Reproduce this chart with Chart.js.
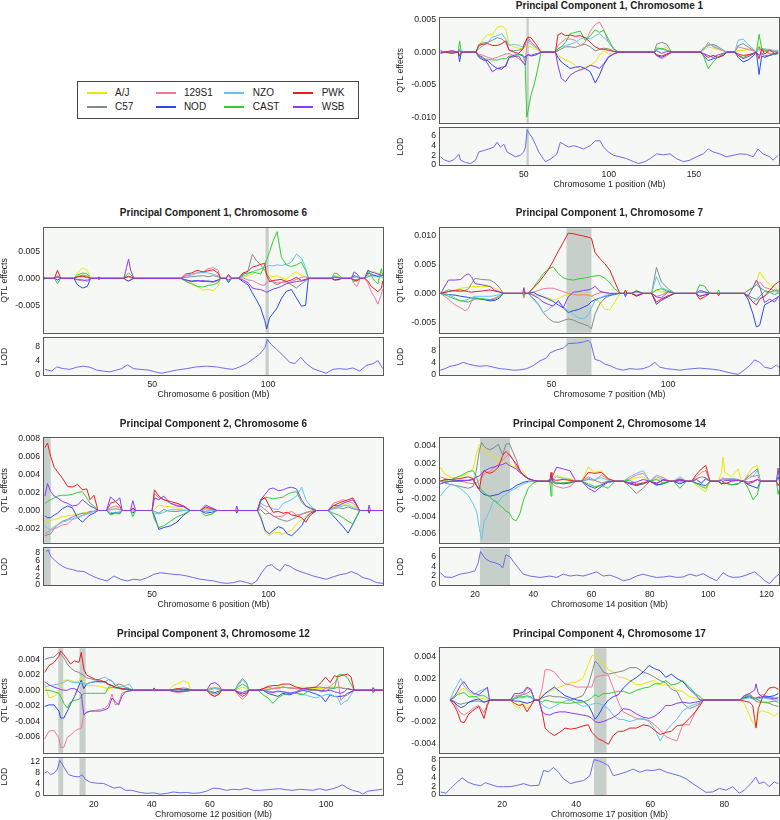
<!DOCTYPE html>
<html>
<head>
<meta charset="utf-8">
<title>QTL effects by founder</title>
<script src="https://cdn.jsdelivr.net/npm/chart.js@4.4.1/dist/chart.umd.min.js"></script>
<style>
  html, body { margin: 0; padding: 0; overflow: hidden; }
  body { width: 780px; height: 820px; position: relative; background: #fff; font-family: "Liberation Sans", Arial, Helvetica, sans-serif; color: #222; }
  canvas { position: absolute; }
  .ptitle { position: absolute; width: 339px; text-align: center; font-weight: bold; font-size: 10px; line-height: 12px; white-space: nowrap; }
  #legend { position: absolute; left: 77px; top: 81px; width: 280px; height: 36px; border: 1px solid #444; }
  .key { position: absolute; width: 20px; height: 2px; }
  .lab { position: absolute; font-size: 10px; line-height: 12px; }
</style>
</head>
<body>
<div id="legend"></div>
<script>
// founders, in the order of the legend
const founders = ['A/J', 'C57', '129S1', 'NOD', 'NZO', 'CAST', 'PWK', 'WSB'];
const founderColors = ['#e8e800', '#808c88', '#f2789a', '#2a48f0', '#62c4f2', '#32cd32', '#f01c1c', '#8c3cf2'];

// ---- Principal Component 1, Chromosome 1 (effects in units of 0.001) ----
const pc1chr1Pos = [1.2, 3.1, 8.0, 11.5, 12.3, 13.3,
  21.9, 23.6, 26.2, 28.9, 31.6, 34.4, 37.1, 39.5, 41.4, 44.1, 47.1, 49.4, 50.8, 51.8, 52.7, 54.3, 56.3, 58.2, 60.2,
  68.6, 70.1, 72.1, 74.6, 77.3, 80.3, 83.2, 86.1, 89.1, 92.0, 94.5, 96.9, 99.8, 102.7, 105.7,
  126.6, 128.1, 131.1, 134.0, 136.9,
  153.9, 155.5, 158.4, 161.3, 164.3, 167.2, 169.5,
  174.0, 176.0, 178.9, 181.8, 184.8, 186.7, 188.3, 189.8, 191.6, 194.5, 197.5, 199.5];
const pc1chr1AJ = [0, 0, 0, 0, 0.2, 0,
  0, 0.8, 2.0, 2.7, 2.6, 3.8, 4.0, 3.5, 1.2, 0.8, 0.6, 0.5, 0.8, 0.9, 1.0, 0.8, 0.5, 0.3, 0,
  0, -0.5, -0.8, -1.2, -1.5, -2.0, -2.7, -2.3, -2.0, -1.5, -0.5, 0.2, -0.3, -0.2, 0,
  0, 0.8, 0.5, 0.7, 0,
  0, 0.3, 0.8, 0.6, 0.4, 0.2, 0,
  0, 0.3, 0.2, 0.5, 0.3, 0, 1.0, 0.4, 0.2, 0.4, 0.3, 0.1];
const pc1chr1B6 = [0, 0, 0, 0, 0.3, 0,
  0, 1.2, 1.4, 1.5, 1.8, 2.2, 2.0, 1.5, 0.3, 0.2, 0.3, 0.5, 1.0, 2.0, 1.8, 1.5, 1.0, 0.6, 0,
  0, 0.2, 0.5, 0.8, 0.8, 0.7, 1.0, 1.2, 0.8, 0.2, 0.4, 0.6, 0.5, 0.2, 0,
  0, 1.2, 1.5, 1.2, 0,
  0, 0.6, 1.0, 1.2, 0.8, 0.3, 0,
  0, 1.0, 1.3, 0.8, 0.3, 0, 0.8, 0.2, 0.3, 0.2, 0.1, 0.2];
const pc1chr1S129 = [0.3, 0, 0.2, 0, 0.3, 0,
  0, -0.3, -0.5, -0.8, -1.0, -0.8, -0.5, -0.3, -0.2, -0.5, -1.0, -1.5, -1.2, 0.8, 2.2, 1.5, 1.0, 0.5, 0,
  0, 1.0, 1.5, 2.0, 2.0, 1.8, 1.0, 1.5, 3.2, 4.2, 4.6, 3.5, 1.5, 0.5, 0,
  0, -0.6, -1.0, -0.6, 0,
  0, 0.3, 1.5, 0.8, 0.5, 0.2, 0,
  0, 0.8, 0.6, 0.4, 0.2, 0, 0.6, -0.5, 0.2, -0.3, -0.2, 0.1];
const pc1chr1NOD = [0, 0, -0.1, 0, -1.5, 0,
  0, -0.8, -1.2, -1.3, -2.0, -2.5, -2.6, -2.0, -0.8, -0.5, -0.3, -0.6, -0.8, -0.5, -0.4, -0.6, -0.5, -0.3, 0,
  0, -0.8, -1.5, -2.0, -2.5, -2.3, -2.2, -2.5, -3.0, -4.7, -3.5, -2.0, -0.8, -0.3, 0,
  0, -0.5, -0.8, -0.4, 0,
  0, -0.5, -1.3, -1.0, -0.8, -0.5, 0,
  0, -0.8, -1.5, -1.2, -0.6, 0, -3.4, -0.6, -0.8, -0.5, -0.3, -0.2];
const pc1chr1NZO = [0, 0, 0, 0, 0.5, 0,
  0, 0.5, 1.0, 1.5, 2.3, 2.5, 2.8, 2.0, 1.0, 1.2, 1.0, 0.8, 1.5, 1.8, 1.5, 1.2, 0.8, 0.5, 0,
  0, 0.5, 0.8, 1.0, 1.2, 1.5, 2.0, 2.2, 2.0, 2.5, 2.8, 2.3, 1.5, 0.6, 0,
  0, 0.6, 0.4, 0.3, 0,
  0, 0.4, 1.2, 1.0, 0.6, 0.3, 0,
  0, 1.8, 2.0, 1.2, 0.5, 0, 0.5, 0.3, 0.5, 0.4, 0.2, 0.3];
const pc1chr1CAST = [0.2, 0, 0.1, 0, 1.7, 0,
  0, -0.6, -1.0, -1.1, -1.2, -1.2, -1.0, -1.0, -0.6, -0.6, -0.3, -0.4, -1.5, -9.9, -8.7, -6.5, -4.8, -2.6, 0,
  0, 0.5, 0.8, 1.5, 2.8, 3.0, 3.2, 1.8, 2.5, 3.4, 3.0, 3.3, 2.0, 0.5, 0,
  0, 0.4, 0.6, 0.3, 0,
  0, -0.5, -2.5, -1.5, -0.7, -0.3, 0,
  0, -0.5, -0.8, -0.5, -0.2, 0, 2.7, 0.6, 0.4, -0.3, -0.4, -0.2];
const pc1chr1PWK = [-0.2, 0, -0.2, 0, -0.6, 0,
  0, 1.0, 1.2, 1.3, 1.0, 1.0, 1.3, 1.7, 0.3, 0.0, -0.2, 0.5, 1.5, 2.0, 2.3, 2.2, 1.5, 0.8, 0,
  0, 2.6, 2.9, 2.5, 2.6, 2.4, 2.5, 2.2, 1.5, 0.8, 0.5, 0.4, 0.3, 0.1, 0,
  0, -0.4, -0.6, -0.3, 0,
  0, -0.3, -0.8, -0.5, -0.8, -0.5, 0,
  0, -0.3, -0.5, -0.4, -0.2, 0, -1.0, 0.5, -0.3, 0.3, -0.2, -0.1];
const pc1chr1WSB = [-0.2, 0, 0.2, 0, 0.2, 0,
  0, -0.5, -0.8, -1.8, -3.0, -2.5, -2.3, -2.2, -0.8, -0.7, -0.6, -1.5, -2.0, -0.5, -0.4, -0.5, -0.3, -0.2, 0,
  0, -2.0, -4.0, -4.5, -3.5, -3.0, -2.7, -2.5, -2.0, -2.2, -2.5, -1.8, -0.7, -0.3, 0,
  0, 0.2, -0.2, 0.1, 0,
  0, -0.2, -0.5, -0.8, -0.4, -0.2, 0,
  0, -0.5, -1.0, -0.7, -0.3, 0, -0.5, -0.2, -0.6, -0.5, -0.2, -0.1];
const pc1chr1LodPos = [1.2, 3.1, 6.1, 9.0, 11.9, 12.9, 15.8, 18.8, 21.7, 23.6, 26.6, 29.5, 32.4, 34.4, 36.3, 38.3, 40.2, 42.2, 45.1, 48.0,
  50.0, 51.0, 52.0, 52.9, 54.9, 56.8, 58.8, 60.7, 62.7, 64.6, 67.6, 69.5, 71.5, 73.4, 76.4, 79.3, 82.2, 85.2, 89.1, 92.0,
  94.9, 96.9, 99.8, 102.7, 106.6, 110.5, 114.5, 117.4, 121.3, 124.2, 128.1, 132.0, 135.9, 139.8, 143.8, 147.7, 151.6, 155.5, 158.4, 161.3,
  165.2, 169.1, 173.0, 177.0, 180.9, 184.8, 187.7, 190.6, 194.5, 196.5, 199.5];
const pc1chr1Lod = [1.7, 1.1, 0.7, 1.1, 2.2, 1.0, 0.5, 0.3, 1.0, 2.7, 3.0, 3.3, 3.7, 4.7, 3.7, 4.3, 2.7, 2.3, 1.7, 2.0,
  2.7, 3.7, 7.3, 6.7, 5.7, 4.3, 2.7, 1.7, 0.7, 1.0, 1.7, 2.3, 4.7, 4.3, 3.7, 4.0, 3.7, 3.3, 4.0, 5.0,
  5.0, 3.7, 2.7, 2.0, 1.7, 1.3, 0.7, 0.3, 0.7, 1.3, 2.3, 2.1, 2.3, 1.3, 0.7, 1.0, 1.7, 2.3, 3.3, 2.7,
  2.3, 1.7, 2.0, 2.3, 2.2, 1.7, 3.3, 2.3, 1.7, 1.0, 2.0];
const pc1chr1Peak = [[51.6, 53.0]];
const pc1chr1XTicks = [50, 100, 150];
const pc1chr1YTicks = [-10, -5, 0, 5];
const pc1chr1YLabels = ['-0.010', '-0.005', '0.000', '0.005'];
const pc1chr1LodTicks = [0, 2, 4, 6];

// ---- Principal Component 1, Chromosome 6 ----
const pc1chr6Pos = [3.4, 4.0, 7.8, 9.1, 10.5, 16.2, 17.7, 20.0, 22.0, 23.4, 26.4, 27.0, 27.6, 37.8, 38.9, 39.8, 40.7, 42.1,
  62.4, 64.5, 67.0, 69.4, 72.0, 74.1, 76.3, 78.4, 79.5, 81.8, 82.9, 84.3,
  87.2, 89.2, 91.4, 93.2, 95.0, 96.8, 98.6, 99.4, 100.7, 102.2, 103.9, 105.7, 107.9, 110.1, 112.2, 114.4, 116.2, 117.4,
  127.4, 128.7, 130.2, 131.8, 135.9, 137.1, 138.4, 139.8, 141.7, 143.1, 144.5, 146.0, 147.4, 148.9, 149.5];
const pc1chr6AJ = [0, 0, 0, 0.4, 0, 0, 1.0, 2.0, 1.5, 0, 0, 0.2, 0, 0, 0.3, 0.4, 0.2, 0,
  0, -0.5, -0.8, -1.5, -2.2, -2.0, -2.3, -1.5, 0, 0, -0.3, 0,
  0, 0.2, 0.5, 0.8, 1.2, 1.8, 1.5, 1.0, 0.5, 0.3, 0.5, 0.1, -0.2, 0.8, 1.2, 0.6, 0.3, 0,
  0, 0.5, 0.3, 0, 0, 0.3, 0.2, 0, 0, 0.8, 1.0, 1.3, 0.8, 1.0, 0.8];
const pc1chr6B6 = [0, 0, 0, 0.2, 0, 0, 0.3, 0.6, 0.4, 0, 0, 0, 0, 0, 0.2, 0.3, 0.1, 0,
  0, 0.2, 0.3, 0.4, 0.5, 0.3, 0.5, 0.3, 0, 0, 0.5, 0,
  0, 0.6, 1.5, 4.5, 3.3, 2.5, 1.5, 0.8, 0, -0.8, -1.2, -0.8, -0.5, -1.2, -1.8, -1.0, -0.5, 0,
  0, 0.3, 0.2, 0, 0, -0.3, -0.2, 0, 0, 0.3, 0.5, 0.6, 0.4, 0.3, 0.2];
const pc1chr6S129 = [0.2, 0, 0, 0.5, 0, 0, -0.3, -0.5, -0.2, 0, 0, 0.3, 0, 0, -0.3, -0.5, -0.3, 0,
  0, 0.4, 0.6, 1.0, 1.2, 1.8, 2.0, 1.5, 0, 0, 0.6, 0,
  0, 0.1, -0.3, -0.4, -0.8, -1.2, -1.3, -0.8, -0.5, -0.6, -0.9, -0.7, -0.9, -0.6, -0.2, 0.2, 0.3, 0,
  0, -0.4, -0.2, 0, 0, -1.0, -1.5, 0, 0, -1.0, -2.5, -3.5, -4.8, -3.0, -2.0];
const pc1chr6NOD = [0, 0, 0, -0.3, 0, 0, -1.2, -1.8, -1.5, 0, 0, -0.2, 0, 0, -0.4, -0.5, -0.3, 0,
  0, -0.3, -0.5, -0.4, -0.6, -0.5, -0.6, -0.3, 0, 0, -0.8, 0,
  0, -0.6, -1.2, -2.7, -4.0, -5.5, -7.9, -9.4, -7.3, -6.5, -5.5, -3.8, -2.4, -2.1, -3.6, -5.2, -5.0, 0,
  0, -0.3, -0.2, 0, 0, 0.5, 0.3, 0, 0, 1.0, 0.8, 0.5, 0.3, 0.5, 0.6];
const pc1chr6NZO = [0.3, 0, 0, 0.3, 0, 0, 0.2, 0.3, 0.2, 0, 0, 0.1, 0, 0, 0.2, 0.3, 0.2, 0,
  0, 0.5, 0.8, 1.0, 1.1, 1.0, 0.8, 0.5, 0, 0, 0.4, 0,
  0, 0.4, 0.8, 1.2, 1.5, 1.8, 2.0, 2.2, 2.4, 2.3, 2.5, 2.4, 2.6, 3.0, 4.5, 3.8, 2.0, 0,
  0, 0.4, 0.2, 0, 0, 0.2, 0.3, 0, 0, 0.5, 0.6, 0.3, 0.5, 0.2, 0.1];
const pc1chr6CAST = [-0.2, 0, 0, -1.0, 0, 0, 0.6, 1.0, 0.8, 0, 0, -0.2, 0, 0, 0.6, 1.0, 0.7, 0,
  0, -0.6, -1.0, -1.5, -1.6, -1.3, -1.2, -0.8, 0, 0, -0.5, 0,
  0, 0.8, 1.0, 1.2, 1.0, 0.8, 2.5, 3.5, 5.0, 7.0, 8.7, 4.0, 2.5, 2.2, 2.5, 3.0, 1.5, 0,
  0, 1.0, 0.8, 0, 0, -0.6, -0.4, 0, 0, 1.5, 0.5, -0.5, -1.0, 1.8, 0.5];
const pc1chr6PWK = [0.2, 0, 0, 1.5, 0, 0, 0.3, 0.4, 0.2, 0, 0, 0.2, 0, 0, 0.2, 0.4, 0.3, 0,
  0, 0.8, 1.0, 1.5, 1.2, 1.4, 1.6, 1.0, 0, 0, 0.7, 0,
  0, 1.0, 1.3, 2.1, 2.3, 2.6, 2.8, 0.5, -0.6, -0.4, -0.3, -0.2, -0.6, -0.3, 0.2, -0.4, -0.2, 0,
  0, -0.2, -0.3, 0, 0, -0.3, -0.5, 0, 0, -0.5, -1.5, -2.0, -2.5, -1.8, -0.5];
const pc1chr6WSB = [0, 0, 0, 0.3, 0, 0, -0.2, -0.3, -0.5, 0, 0, -0.1, 0, 0, 2.0, 3.6, 1.5, 0,
  0, -0.3, -0.6, -0.5, -0.4, -0.6, -0.7, -0.4, 0, 0, -0.3, 0,
  0, -0.3, -0.8, -1.8, -2.0, -2.1, -2.4, -2.6, -2.3, -2.0, -1.8, -1.5, -1.0, -0.8, -0.6, -0.5, -0.3, 0,
  0, 0.2, 0.1, 0, 0, 1.2, 0.8, 0, 0, 1.5, 1.2, 1.0, 0.8, 0.6, 0.5];
const pc1chr6LodPos = [3.7, 6.6, 8.8, 11.6, 14.5, 17.4, 20.3, 23.1, 26.0, 28.9, 31.8, 34.6, 36.8, 39.4, 41.8, 44.7, 48.3, 51.1, 54.0, 56.9,
  60.5, 64.8, 69.1, 73.4, 77.7, 82.0, 84.9, 87.8, 90.7, 93.5, 96.4, 98.6, 99.7, 101.4, 103.6, 106.5, 109.3, 111.5, 114.1, 116.5,
  119.4, 122.3, 125.1, 128.0, 130.9, 133.8, 136.6, 139.5, 142.4, 145.3, 147.4, 149.5];
const pc1chr6Lod = [1.6, 1.1, 2.3, 1.8, 1.6, 2.2, 2.5, 2.2, 1.4, 1.1, 0.9, 1.4, 1.8, 2.9, 1.8, 1.6, 1.4, 0.9, 0.5, 0.9,
  1.4, 1.8, 2.3, 2.5, 2.3, 1.8, 1.6, 2.3, 3.2, 4.5, 5.9, 7.7, 10.0, 8.6, 7.3, 5.5, 3.6, 3.2, 5.0, 3.2,
  1.8, 1.1, 0.5, 1.6, 1.8, 1.6, 2.0, 1.1, 2.7, 3.2, 4.1, 1.8];
const pc1chr6Peak = [[98.9, 100.3]];
const pc1chr6XTicks = [50, 100];
const pc1chr6YTicks = [-5, 0, 5];
const pc1chr6YLabels = ['-0.005', '0.000', '0.005'];
const pc1chr6LodTicks = [0, 4, 8];

// ---- Principal Component 1, Chromosome 7 ----
const pc1chr7Pos = [2.4, 5.7, 8.6, 11.0, 12.9, 14.3, 15.7, 17.1, 20.0, 23.6, 25.7, 27.6, 29.3, 37.6, 38.1, 38.7,
  40.0, 42.1, 44.3, 46.4, 48.6, 50.7, 52.9, 55.0, 57.1, 59.3, 61.4, 63.6, 65.7, 67.1, 68.6, 70.7, 72.9, 75.0, 77.1, 79.3,
  81.1, 81.7, 82.3, 84.3, 86.4, 89.3, 92.9, 95.0, 97.1, 100.0, 102.9, 111.9, 113.6, 115.7, 117.9, 121.1, 121.7, 122.3,
  132.6, 134.3, 136.4, 137.9, 139.3, 141.4, 143.6, 145.7, 147.5];
const pc1chr7AJ = [0, 0.3, 0.6, 0.9, 1.0, 1.1, 1.2, 1.2, 1.2, 1.2, 0.9, 0.5, 0, 0, 0.2, 0,
  0, -0.2, -0.4, -0.6, -0.8, -1.2, -0.9, -0.4, -0.2, -0.3, -0.2, -0.3, -0.2, -0.4, -1.0, -1.5, -2.8, -2.8, -1.5, 0,
  0, 0, 0, 0, 0.3, 0, 0, 0.6, 0.3, 0.2, 0, 0, 0.3, 0.2, 0, 0, 0, 0,
  0, 0.5, 1.0, 2.0, 3.7, 2.5, 1.5, 1.0, 0.5];
const pc1chr7B6 = [0, 0.6, 0.4, 0.3, 0.5, 0.8, 1.7, 2.6, 2.4, 2.3, 1.8, 1.0, 0, 0, 0.2, 0,
  0, -0.8, -1.8, -3.3, -4.3, -4.9, -5.0, -4.7, -4.4, -4.6, -5.0, -5.3, -5.6, -6.1, -3.6, -1.8, -0.8, -0.4, -0.2, 0,
  0, 0, 0, 0, 0.2, 0, 0, 4.5, 2.0, 0.8, 0, 0, 0.2, 0.1, 0, 0, 0, 0,
  0, -0.3, -0.8, -1.0, -0.5, 0.3, 0.2, -0.2, 0.1];
const pc1chr7S129 = [0, -1.0, -2.0, -2.5, -3.0, -2.6, -1.3, -1.0, -1.0, -1.1, -0.8, -0.4, 0, 0, -0.8, 0,
  0, 0.2, 0.5, 0.8, 0.9, 0.9, 0.6, 0.3, 0, -0.2, -0.3, -0.2, -0.3, -0.5, -0.2, 0.1, 0.2, 0, 0, 0,
  0, 0, 0, 0, -0.3, 0, 0, -0.5, -0.3, 0.4, 0, 0, -0.5, -0.2, 0, 0, 0, 0,
  0, 0.5, 1.0, 1.5, 2.0, 1.0, 0.8, 0.5, 0.6];
const pc1chr7NOD = [0, -0.2, -0.3, -0.5, -0.6, -0.7, -0.8, -0.8, -1.0, -1.3, -1.2, -0.8, 0, 0, -0.2, 0,
  0, 0.2, -0.3, -0.6, -1.0, -1.4, -2.0, -2.5, -3.3, -3.0, -2.8, -2.4, -2.0, -1.4, -1.1, -0.8, -0.5, -0.3, -0.1, 0,
  0, -0.3, 0, 0, -0.4, 0, 0, -1.9, -1.2, -0.6, 0, 0, -0.5, -0.3, 0, 0, 0, 0,
  0, -1.0, -3.5, -5.8, -5.5, -2.0, -1.5, -1.0, -0.5];
const pc1chr7NZO = [0, -0.2, -0.8, -1.3, -1.2, -1.0, -0.7, -0.5, -0.5, -0.5, -0.4, -0.2, 0, 0, 0.2, 0,
  0, -1.0, -2.0, -3.3, -2.8, -2.0, -1.5, -2.3, -3.0, -3.6, -4.2, -4.4, -3.8, -2.5, -1.3, -0.8, -0.4, -0.2, 0, 0,
  0, 0, 0, 0, 0.3, 0, 0, 2.9, 1.0, 0.5, 0, 0, 0.2, 0.3, 0, 0, 0, 0,
  0, -0.5, -1.5, -1.2, -0.8, -0.5, 0.2, 0.3, 0.2];
const pc1chr7CAST = [0, -0.5, -1.0, -1.3, -1.4, -1.5, -1.2, -0.8, -0.9, -1.1, -1.0, -0.6, 0, 0, -0.4, 0,
  0, 1.0, 2.2, 3.4, 4.2, 4.6, 3.4, 2.7, 2.4, 2.3, 2.5, 2.6, 2.8, 2.9, 3.0, 3.1, 2.6, 1.8, 0.8, 0,
  0, 0.3, 0, 0, 0.5, 0, 0, 0.6, 0.8, 0.3, 0, 0, 1.5, 1.2, 0, 0, 0.6, 0,
  0, 0.5, 1.0, 1.5, 1.0, 0.5, 0.2, 0.6, 0.3];
const pc1chr7PWK = [0, 0.3, 0.5, 0.6, 0.4, 0.3, 0.2, 0.3, 0.4, 0.6, 0.4, 0.2, 0, 0, 0.3, 0,
  0, 0.9, 1.8, 2.9, 4.1, 5.6, 7.3, 8.8, 10.4, 10.3, 10.1, 9.9, 9.7, 9.5, 7.1, 6.0, 5.1, 4.0, 2.0, 0,
  0, 0.6, 0, 0, -0.5, 0, 0, -1.5, -1.0, -0.4, 0, 0, -1.0, -0.6, 0, 0, -0.4, 0,
  0, -0.5, -1.5, -2.0, -1.0, -0.5, 0.5, 1.5, 2.0];
const pc1chr7WSB = [0, 2.3, 2.3, 2.4, 3.1, 3.4, 2.8, 1.7, 1.5, 1.2, 0.5, 0.3, 0, 0, 1.0, 0,
  0, -0.3, -0.8, -1.5, -1.9, -2.2, -1.2, -2.5, -0.6, 0.2, 0.3, 0.5, 0.6, 0.8, 1.2, 0.4, 0.1, 0, 0, 0,
  0, -0.6, 0, 0, 0.4, 0, 0, -0.6, -0.8, 0.3, 0, 0, 0.5, 0.3, 0, 0, 0, 0,
  0, -0.5, 1.0, 2.3, 1.2, -1.6, -1.0, -1.5, -0.5];
const pc1chr7LodPos = [2.2, 4.3, 6.4, 9.3, 12.1, 14.3, 17.1, 19.3, 22.1, 25.0, 27.9, 30.7, 33.6, 36.4, 39.3, 42.1, 45.0, 47.9, 49.3, 52.1,
  55.0, 57.1, 60.7, 63.6, 65.7, 66.9, 67.9, 68.6, 70.7, 72.9, 75.0, 77.9, 80.7, 83.6, 86.4, 89.3, 92.1, 94.3, 96.4, 99.3,
  102.1, 105.0, 107.9, 110.7, 113.6, 116.4, 119.3, 122.1, 125.0, 127.9, 130.0, 132.1, 135.0, 137.1, 139.3, 141.4, 144.3, 146.4, 147.5];
const pc1chr7Lod = [1.6, 2.1, 2.9, 3.3, 4.2, 3.6, 3.1, 2.9, 3.1, 2.6, 2.1, 1.9, 1.6, 1.7, 2.1, 3.1, 4.7, 5.7, 7.3, 8.3,
  8.9, 10.4, 10.6, 10.9, 11.5, 10.4, 7.3, 5.2, 4.7, 3.6, 3.1, 2.1, 1.6, 2.1, 1.9, 2.1, 2.9, 4.2, 2.6, 2.1,
  1.9, 1.6, 1.9, 2.1, 2.3, 2.1, 1.9, 1.6, 1.0, 0.5, 0.2, 1.3, 3.1, 5.0, 4.2, 2.6, 2.1, 3.3, 2.6];
const pc1chr7Peak = [[56.4, 67.1]];
const pc1chr7XTicks = [50, 100];
const pc1chr7YTicks = [-5, 0, 5, 10];
const pc1chr7YLabels = ['-0.005', '0.000', '0.005', '0.010'];
const pc1chr7LodTicks = [0, 4, 8];

// ---- Principal Component 2, Chromosome 6 ----
const pc2chr6Pos = [3.9, 5.0, 6.4, 7.9, 9.3, 11.4, 13.6, 15.7, 17.9, 20.0, 21.9, 23.3, 25.0, 26.7,
  30.4, 32.1, 34.3, 36.1, 37.1, 40.7, 41.7, 42.9, 50.0, 51.0, 52.9, 55.0, 57.9, 60.7, 63.6, 66.4,
  70.7, 72.9, 75.7, 77.9, 85.9, 86.4, 87.0,
  95.3, 96.7, 98.6, 100.4, 102.1, 104.3, 106.4, 108.1, 110.0, 112.1, 114.3, 116.1, 118.1, 120.7,
  125.7, 127.9, 130.0, 132.1, 134.3, 136.4, 139.3, 142.9, 143.3, 143.9, 149.3];
const pc2chr6AJ = [-1.3, -1.2, -1.1, -1.0, -0.9, -0.7, -0.6, -0.5, -0.4, -0.3, -0.2, -0.1, -0.1, 0,
  0, -0.4, -0.3, -0.2, 0, 0, 0.1, 0, 0, 0.1, 0.6, 0.5, 0.4, 0.3, 0.1, 0,
  0, 0.2, 0.1, 0, 0, 0, 0,
  0, -0.5, -2.4, -2.8, -2.5, -2.4, -2.6, -2.4, -2.2, -1.5, -1.0, -0.6, -0.3, 0,
  0, 0.4, 0.5, 0.6, 0.8, 0.5, 0, 0, 0, 0, 0];
const pc2chr6B6 = [-2.8, -2.7, -2.6, -2.0, -1.6, -1.2, -1.0, -0.7, -0.5, -0.3, -0.3, -0.1, -0.1, 0,
  0, 0.1, 0.2, 0.1, 0, 0, 0.1, 0, 0, -0.1, -0.3, 0.1, -0.1, -0.1, 0, 0,
  0, -0.1, 0, 0, 0, 0, 0,
  0, 0.1, -0.4, -0.3, -0.6, -0.9, -1.1, -1.2, -1.0, -0.7, -0.4, -0.2, -0.1, 0,
  0, 0.2, 0.3, 0.2, 0.4, 0.2, 0, 0, 0, 0, 0];
const pc2chr6S129 = [-2.6, -2.4, -2.2, -2.0, -1.9, -1.6, -1.5, -1.0, -0.8, -0.5, -0.4, -0.2, -0.1, 0,
  0, 0.3, 0.5, 0.3, 0, 0, 0.1, 0, 0, 1.9, 1.4, 1.2, 0.8, 0.6, 0.5, 0,
  0, 0.3, 0.1, 0, 0, 0, 0,
  0, 0.5, 0.1, -0.3, -0.6, -0.7, -0.6, -0.3, -0.1, -0.5, -0.4, -0.3, -0.1, 0,
  0, 0.8, 1.0, 1.2, 1.0, 0.8, 0, 0, 0, 0, 0];
const pc2chr6NOD = [-0.6, -0.8, -0.8, -0.5, -0.3, 0.2, 0.5, 0.3, -0.8, -1.3, -0.8, -0.5, -0.3, 0,
  0, -0.4, -0.2, -0.3, 0, 0, -0.3, 0, 0, -0.6, -2.1, -1.9, -1.7, -1.3, -0.5, 0,
  0, -0.3, -0.2, 0, 0, -0.3, 0,
  0, -0.8, -2.2, -2.6, -2.2, -1.8, -2.0, -2.6, -2.8, -2.3, -1.7, -0.8, -0.3, 0,
  0, -0.6, -1.2, -1.8, -2.5, -1.5, 0, 0, -0.3, 0, 0];
const pc2chr6NZO = [-1.7, -2.0, -2.1, -1.8, -1.6, -1.3, -1.1, -0.9, -0.8, -0.6, -0.4, -0.3, -0.1, 0,
  0, -0.2, -0.3, -0.1, 0, 0, -0.1, 0, 0, -0.3, -0.4, -0.2, 0.1, 0.1, 0, 0,
  0, 0.1, 0, 0, 0, 0, 0,
  0, 0.8, 0.5, 0.4, 0.2, 0.1, 0.8, 1.0, 1.2, 1.6, 2.6, 1.2, 0.5, 0,
  0, 0.3, 0.4, 0.5, 0.6, 0.3, 0, 0, 0, 0, 0];
const pc2chr6CAST = [0.8, 1.0, 1.2, 1.4, 1.6, 1.7, 1.7, 1.8, 2.0, 2.1, 1.4, 0.8, 0.5, 0,
  0, -0.5, -0.3, -0.4, 0, 0, -0.7, 0, 0, -1.0, -1.9, -1.7, -1.2, -0.7, -0.4, 0,
  0, -0.6, -0.4, 0, 0, 0, 0,
  0, 1.0, 1.5, 1.4, 1.3, 1.4, 1.5, 1.8, 2.0, 2.1, 0.9, 0.5, 0.3, 0,
  0, -0.3, -0.5, -0.8, -1.2, -1.5, 0, 0, 0, 0, 0];
const pc2chr6PWK = [7.0, 7.5, 6.0, 4.8, 4.3, 3.6, 2.7, 2.6, 2.9, 2.3, 2.4, 1.2, 1.7, 0,
  0, 0.8, 1.0, 0.5, 0, 0, 0.3, 0, 0, 2.3, 1.6, 1.2, 1.0, 0.8, 0.5, 0,
  0, 0.4, 0.2, 0, 0, 0, 0,
  0, 1.2, 1.4, 0.5, -0.2, -0.1, -0.3, -0.2, -0.5, -0.6, -0.8, -1.3, -0.5, 0,
  0, 0.5, 0.8, 1.0, 1.2, 1.4, 0, 0, 0, 0, 0];
const pc2chr6WSB = [1.6, 3.0, 2.1, 1.6, 1.4, 1.0, 0.8, 0.5, 0.6, 1.2, 0.8, 0.5, 0.3, 0,
  0, 1.5, 1.0, 1.4, 0, 0, 1.1, 0, 0, 1.4, 1.2, 1.6, 0.8, 0.5, 0.4, 0,
  0, 0.6, 0.3, 0, 0, 0.5, 0,
  0, 1.2, 1.8, 2.4, 2.5, 2.2, 2.3, 2.5, 2.6, 2.4, 1.2, 0.5, 0.2, 0,
  0, 0.6, 0.5, 0.8, 1.0, 1.2, 0, 0, 0.6, 0, 0];
const pc2chr6LodPos = [4.3, 5.3, 6.4, 7.9, 9.3, 11.4, 13.6, 15.7, 17.9, 20.7, 22.9, 25.0, 27.9, 30.7, 33.6, 36.4, 39.3, 42.1, 45.0, 47.9,
  50.7, 53.6, 56.4, 59.3, 62.1, 65.0, 67.9, 70.7, 73.6, 76.4, 79.3, 82.1, 85.0, 87.9, 90.7, 92.9, 95.0, 97.1, 99.3, 101.4,
  102.9, 105.0, 107.1, 109.3, 111.4, 113.6, 116.4, 119.3, 122.1, 125.0, 127.9, 130.7, 133.6, 135.7, 138.6, 140.7, 143.6, 146.4, 149.3];
const pc2chr6Lod = [8.2, 8.6, 7.0, 6.2, 5.4, 4.6, 4.0, 3.8, 3.4, 3.3, 2.6, 2.0, 1.4, 1.0, 2.2, 1.4, 1.0, 1.4, 1.2, 1.8,
  2.6, 3.0, 2.8, 2.6, 2.5, 2.2, 1.8, 1.4, 1.2, 1.0, 0.6, 0.4, 0.6, 1.0, 0.6, 0.2, 1.0, 3.0, 4.6, 5.0,
  4.2, 3.4, 5.0, 4.6, 3.8, 3.3, 2.8, 2.2, 1.8, 1.4, 2.0, 2.5, 2.8, 3.3, 2.6, 1.8, 1.4, 0.6, 0.4];
const pc2chr6Peak = [[3.5, 6.4]];
const pc2chr6XTicks = [50, 100];
const pc2chr6YTicks = [-2, 0, 2, 4, 6, 8];
const pc2chr6YLabels = ['-0.002', '0.000', '0.002', '0.004', '0.006', '0.008'];
const pc2chr6LodTicks = [0, 2, 4, 6, 8];

// ---- Principal Component 2, Chromosome 14 ----
const pc2chr14Pos = [8.1, 9.7, 12.0, 14.9, 17.7, 19.4, 20.6, 21.5, 22.3, 23.1, 24.0, 25.1, 26.5, 28.0, 29.5, 30.6, 31.8, 32.9, 34.1, 35.4, 36.8, 38.3, 40.0, 41.7,
  44.6, 45.7, 46.1, 46.4, 48.0, 50.3, 52.6, 54.6, 56.6, 58.9, 61.1, 63.4, 65.7, 68.0,
  70.9, 73.1, 75.4, 77.7, 80.0, 82.3, 84.6, 86.9, 88.0, 90.3, 92.6, 94.3, 96.0, 97.7, 99.2, 100.6,
  103.4, 104.6, 105.1, 105.7, 108.0, 110.3, 111.4, 112.2, 113.7, 115.4, 116.9, 117.9, 123.4, 124.0, 124.3];
const pc2chr14AJ = [1.6, 0.8, 0.4, 0.5, 0.9, 1.5, 3.2, 4.2, 3.8, 3.4, 3.2, 3.1, 2.7, 2.4, 2.1, 2.0, 2.0, 1.7, 1.6, 1.4, 1.0, 0.2, 0.1, 0,
  0, 0.1, 0.2, 0.3, 0.7, 0.4, 0.3, 0, 0, 1.6, 1.0, 1.2, 0.2, 0,
  0, 0.2, 0.4, 0.5, 0, 0.3, 0.1, 0, 0, 0.2, 0, 0, -0.5, -0.9, -1.2, 0,
  0, 1.0, 2.7, 1.0, 0.5, 1.4, 0, 0, 0.9, 1.6, 1.8, 0, 0, 0.3, 0.1];
const pc2chr14B6 = [0.1, -0.2, -0.4, -0.6, -0.8, -0.6, 1.5, 3.5, 4.4, 4.0, 3.7, 3.6, 3.8, 4.2, 3.0, 4.2, 4.3, 3.4, 2.5, 1.2, 0.6, 0.3, 0.1, 0,
  0, 0, -0.2, -0.1, -0.3, -0.2, -0.1, 0, 0, 0.2, 0.1, -0.2, 0, 0,
  0, -0.6, -1.4, -0.8, 0, -0.5, -0.2, 0, 0, -0.1, 0, 0, 0.3, 0.5, 0.4, 0,
  0, 0.1, 0.2, 0.1, 0.2, 0.2, 0, 0, 0.5, 1.0, 1.4, 0, 0, 0.3, 0.1];
const pc2chr14S129 = [0.5, 0.3, 0.1, 0, -0.2, -0.3, -0.2, 0.1, 0.4, 0.8, 1.0, 1.1, 1.5, 1.9, 2.4, 2.8, 3.1, 2.6, 1.7, 1.0, 0.6, 0.3, 0.1, 0,
  0, -0.1, 0, -0.3, -0.6, -0.8, -0.6, 0, 0, 0.5, 0.1, 0.7, 0.2, 0,
  0, 0.3, 0.7, 0.9, 0, 0.7, 0.4, 0, 0, 0.3, 0, 0, 0.5, 1.0, 1.2, 0,
  0, 0.3, 0.4, 0.3, 0.3, 0.2, 0, 0, 0.7, 0.5, 0.7, 0, 0, 0.3, 0.1];
const pc2chr14NOD = [-0.3, -0.1, 0, 0.1, 0.1, 0.2, -0.6, -1.0, -1.3, -1.5, -1.6, -1.7, -1.6, -1.5, -1.2, -1.1, -1.0, -0.8, -0.5, -0.3, -0.1, 0, 0, 0,
  0, 0, 0.2, 0.1, -0.2, -0.3, -0.2, 0, 0, -0.5, -0.8, -0.4, -0.1, 0,
  0, -0.3, -0.5, -0.3, 0, -0.4, -0.3, 0, 0, -0.3, 0, 0, -0.2, -0.4, -0.5, 0,
  0, -0.3, -0.2, -0.2, -0.4, -0.3, 0, 0, -0.4, -0.6, -0.8, 0, 0, 0.5, 0.2];
const pc2chr14NZO = [-1.7, -1.0, -0.3, -0.8, -1.6, -2.6, -3.5, -5.4, -6.6, -4.6, -4.1, -3.3, -2.1, -2.4, -1.7, -1.5, -1.2, -1.0, -0.8, -0.5, -0.3, -0.1, 0, 0,
  0, 0.1, 0.3, 0.2, 0.5, 0.3, 0.2, 0, 0, 0.3, 0.2, 0.4, 0.1, 0,
  0, 0.5, 0.9, 1.2, 0, 0.5, 0.2, 0, 0, 0.5, 0, 0, 0.2, -0.3, 0.3, 0,
  0, 0.2, 0.3, 0.2, 0.3, 0.2, 0, 0, 0.3, 0.6, 1.2, 0, 0, 0.3, 0.1];
const pc2chr14CAST = [0, 0.1, 0.2, 0.6, 1.1, 1.2, 0.4, -0.6, -1.0, -1.3, -1.5, -1.8, -2.2, -2.6, -3.0, -3.4, -3.6, -4.3, -4.5, -3.7, -2.0, -0.8, -0.2, 0,
  0, 0, -1.7, 0, -0.2, -0.2, -0.1, 0, 0, -0.3, -0.6, -0.5, -0.8, 0,
  0, 0.1, -0.3, -0.2, 0, 0.2, -0.2, 0, 0, -0.8, 0, 0, -0.3, -0.6, -0.8, 0,
  0, -0.2, -0.3, -0.2, -0.4, -0.3, 0, 0, -0.8, -2.1, -1.5, 0, 0, -1.5, -1.0];
const pc2chr14PWK = [0, 0.2, 0.2, 0.3, 0.5, 0.3, -0.5, -0.9, 0.6, 1.2, 1.0, 0.9, 1.1, 1.6, 2.9, 3.4, 3.0, 2.5, 2.0, 1.2, 0.6, 0.3, 0.1, 0,
  0, 0, 1.0, 0.2, 0.1, 0.2, 0.1, 0, 0, 1.0, 0.9, 1.0, 0.3, 0,
  0, -0.2, -0.4, -0.2, 0, -0.3, 0.2, 0, 0, 0.2, 0, 0, 0.8, 1.4, 1.8, 0,
  0, -0.3, -0.2, -0.3, 0, 0.1, 0, 0, -0.3, -0.1, 0.2, 0, 0, -0.5, -0.3];
const pc2chr14WSB = [-0.3, -0.1, 0, 0, 0.1, 0.2, 0.5, 0.6, 0.9, 1.2, 1.3, 1.5, 1.6, 1.8, 1.9, 2.1, 1.8, 1.6, 1.4, 1.0, 0.7, 0.3, 0.1, 0,
  0, 0.2, 0.3, 0.4, 1.6, 1.4, 1.2, 0, 0, -0.8, -1.2, -0.6, -0.1, 0,
  0, -0.2, -0.1, 0.2, 0, -0.2, 0.1, 0, 0, 0.1, 0, 0, 0.2, -0.2, 0.3, 0,
  0, 0.1, -0.1, 0.1, 0.1, 0.1, 0, 0, -0.1, 0, 0.2, 0, 0, 1.5, 0.5];
const pc2chr14LodPos = [8.1, 9.7, 12.0, 14.9, 17.7, 20.0, 21.1, 21.9, 23.4, 25.1, 26.9, 28.6, 29.5, 30.6, 32.0, 33.1, 34.9, 36.6, 38.9, 42.3,
  45.7, 48.0, 50.3, 52.6, 54.9, 57.1, 59.4, 61.7, 64.0, 66.3, 68.6, 70.9, 73.1, 75.4, 77.7, 80.0, 82.3, 84.6, 86.9, 89.1,
  91.4, 93.7, 96.0, 98.3, 100.6, 102.9, 105.1, 106.9, 108.6, 110.9, 113.1, 116.0, 117.7, 119.4, 121.1, 122.9, 124.3];
const pc2chr14Lod = [2.6, 1.7, 1.6, 2.3, 2.6, 3.0, 4.7, 7.1, 5.7, 5.0, 4.7, 4.3, 3.6, 6.4, 6.0, 5.0, 3.6, 2.3, 1.9, 1.6,
  1.9, 1.6, 2.3, 1.9, 2.1, 1.9, 2.3, 2.8, 1.9, 2.1, 1.6, 0.9, 1.2, 1.9, 2.3, 1.9, 1.6, 1.7, 1.9, 1.6,
  1.7, 2.3, 1.9, 2.4, 1.6, 0.9, 2.6, 1.9, 1.6, 1.7, 2.1, 2.8, 1.9, 0.9, 0.3, 1.6, 2.3];
const pc2chr14Peak = [[21.7, 32.0]];
const pc2chr14XTicks = [20, 40, 60, 80, 100, 120];
const pc2chr14YTicks = [-6, -4, -2, 0, 2, 4];
const pc2chr14YLabels = ['-0.006', '-0.004', '-0.002', '0.000', '0.002', '0.004'];
const pc2chr14LodTicks = [0, 2, 4, 6];

// ---- Principal Component 3, Chromosome 12 ----
const pc3chr12Pos = [3.1, 4.6, 6.3, 8.0, 8.6, 9.7, 10.9, 12.0, 13.4, 14.9, 15.7, 16.6, 17.5, 18.9, 20.6, 22.3, 24.0, 25.1, 26.3, 27.4, 28.6, 29.7, 30.9, 32.3, 33.7,
  40.3, 40.8, 41.3, 45.7, 47.4, 49.1, 50.9, 52.6, 53.4, 58.9, 60.2, 61.7, 63.2, 64.1, 68.6, 69.7, 71.2, 72.6, 73.5,
  76.6, 78.3, 80.0, 81.7, 83.4, 85.1, 87.4, 89.7, 92.0, 94.3, 96.6, 98.3, 99.8, 101.4, 102.9, 104.0, 105.1, 106.3, 107.4, 108.6, 109.7,
  115.8, 116.2, 116.9, 119.5];
const pc3chr12AJ = [0.8, -1.0, -0.8, -0.2, 0.5, 1.3, 1.3, 1.3, 1.1, 1.2, 1.7, 0.6, 0.6, 0.6, 0.6, 0.5, 0.3, 0.2, 0.3, 0.4, 0.4, 0.5, 0.3, 0.1, 0,
  0, 0, 0, 0, 0.6, 0.9, 1.2, 1.0, 0, 0, 0.3, 0.4, 0.3, 0, 0, 0.2, 0.4, 0.2, 0,
  0, 0.2, 0.3, 0.3, 0.4, 0.4, 0.3, 0.4, 0.4, 0.3, 0.2, 0.2, 0.3, 0.4, 0.4, 0.3, 0.4, 0.3, 0.2, 0.1, 0,
  0, 0.2, 0, 0];
const pc3chr12B6 = [4.0, 4.2, 4.3, 4.9, 4.7, 4.2, 3.4, 2.9, 2.5, 2.3, 2.1, 1.9, 1.6, 1.5, 1.3, 1.1, 1.1, 1.4, 1.2, 0.6, 0.8, 0.7, 0.4, 0.2, 0,
  0, 0, 0, 0, 0.1, 0.2, 0.3, 0.2, 0, 0, 0.2, 0.3, 0.2, 0, 0, 0.8, 1.5, 1.0, 0,
  0, 0, 0.1, 0.2, 0.3, 0.4, 0.3, 0.2, 0.2, 0.3, 0.4, 0.4, 0.3, 0.3, 0.2, 0.4, 0.3, 0.2, 0.2, 0.1, 0,
  0, 0, 0, 0];
const pc3chr12S129 = [-6.3, -5.3, -5.2, -6.2, -7.4, -7.4, -6.1, -5.8, -5.3, -5.0, -4.9, -3.2, -2.8, -2.7, -2.6, -2.5, -2.3, -1.8, -0.5, -1.9, -1.7, -0.4, -0.2, -0.1, 0,
  0, 0, 0, 0, -0.2, -0.3, -0.2, -0.1, 0, 0, -0.6, -0.8, -0.4, 0, 0, -0.6, -1.2, -0.7, 0,
  0, 0.2, 0.4, 0.2, 0.2, 0.4, 0.3, 0.2, 0.2, 0, 0, -0.1, 0.2, 0.5, 1.0, 1.5, -1.3, -0.8, -0.6, -0.3, 0,
  0, 0, 0, 0];
const pc3chr12NOD = [-2.1, -1.9, -1.9, -2.7, -3.6, -3.6, -2.7, -1.8, -0.8, 0.6, 1.3, 0.2, 0.8, 1.0, 1.1, 1.1, 1.1, 0.8, 0.6, 0.4, 0.3, 0.2, 0.2, 0.1, 0,
  0, 0, 0, 0, -0.1, -0.1, -0.1, 0, 0, 0, -0.2, -0.3, -0.1, 0, 0, -0.3, -0.5, -0.3, 0,
  0, 0, -0.4, -0.6, -0.8, -0.4, -0.6, -0.3, 0, -0.2, -0.5, -0.8, -1.5, -0.6, -0.8, -0.8, -0.8, -0.7, -0.4, -0.2, 0,
  0, -0.3, 0, 0];
const pc3chr12NZO = [0.4, 0.6, 0.7, 0.8, 0.9, 1.0, 1.3, 1.1, 1.0, 1.0, 1.0, 0.9, 0.8, 1.0, 1.2, 1.5, 1.7, 1.4, 1.2, 0.8, 0.5, 0.4, 0.6, 0.8, 0,
  0, 0, 0, 0, 0.1, 0.1, 0.2, 0.1, 0, 0, 0.1, 0.2, 0.1, 0, 0, 0.6, 1.3, 0.8, 0,
  0, 0, -0.1, -0.2, -0.2, -0.2, -0.3, -0.4, -0.5, -0.8, -1.0, -0.8, -0.6, -0.5, -0.8, -0.9, -1.9, -1.5, -1.3, -0.6, 0,
  0, 0.4, 0, 0];
const pc3chr12CAST = [0, 0, -0.2, -0.4, -0.8, -1.7, -2.3, -1.5, -1.3, -1.2, -0.8, -0.4, -0.4, -0.4, -0.4, -0.4, -0.4, 0.4, 0.4, 0.3, 0.2, 0.1, 0.1, 0, 0,
  0, 0, 0, 0, 0, 0.1, 0, 0, 0, 0, -0.3, -0.5, -0.3, 0, 0, 0.4, 0.8, 0.5, 0,
  0, -0.6, -1.0, -1.7, -1.0, -0.6, -0.4, -0.4, -0.6, 0, 0.1, -0.2, -0.1, 0.2, 0.3, 1.9, 2.1, 1.9, 1.6, 0.8, 0,
  0, -0.3, 0, 0];
const pc3chr12PWK = [2.3, 3.2, 3.6, 4.4, 5.1, 4.6, 4.0, 3.4, 3.8, 3.6, 4.9, 2.7, 2.0, 1.7, 1.4, 1.3, 1.0, 0.7, 0.6, 0.4, 0.3, 0.2, 0.1, 0.1, 0,
  0, 0.3, 0, 0, 0.1, 0.2, 0.1, 0.1, 0, 0, -0.5, -0.8, -0.5, 0, 0, -0.4, -0.8, -0.5, 0,
  0, 0.2, 0.5, 0.6, 0.6, 0.8, 0.8, 0.4, 0.2, 0.3, 0.4, 1.0, 1.7, 1.0, 1.9, 1.7, 1.9, 2.0, 2.1, 1.7, 0,
  0, 0, 0, 0];
const pc3chr12WSB = [1.1, 0.7, 0.4, 0.2, 0.1, 0, 0, 0.2, 0.2, -0.2, -0.5, -3.2, -2.9, -2.7, -2.7, -2.7, -2.5, -2.3, -1.0, -1.5, -1.9, -0.8, -0.2, -0.1, 0,
  0, -0.1, 0, 0, -0.1, -0.2, -0.1, -0.1, 0, 0, 0.8, 1.0, 0.6, 0, 0, -0.2, -0.3, -0.1, 0,
  0, 0, -0.2, -0.3, -0.1, -0.2, -0.4, -0.2, 0.2, 0.1, 0, 0, -0.1, 0, -0.2, -0.3, -0.4, -0.2, 0.2, 0.1, 0,
  0, 0.3, 0, 0];
const pc3chr12LodPos = [3.1, 4.0, 5.1, 6.3, 7.4, 8.3, 9.1, 10.3, 11.4, 13.1, 14.9, 16.0, 17.1, 18.9, 21.1, 23.4, 25.1, 26.9, 29.1, 30.9,
  33.1, 36.0, 38.3, 40.6, 42.9, 45.1, 47.4, 49.7, 52.0, 54.3, 56.6, 58.9, 61.1, 63.4, 65.7, 68.0, 70.3, 72.6, 74.9, 77.1,
  79.4, 81.7, 84.0, 86.3, 88.6, 90.9, 93.1, 95.4, 97.7, 100.0, 102.3, 104.0, 105.7, 107.4, 109.1, 111.4, 112.6, 114.3, 116.6, 119.4];
const pc3chr12Lod = [8.0, 8.6, 7.4, 8.0, 9.1, 12.6, 11.4, 9.1, 7.4, 6.8, 6.6, 7.4, 5.7, 4.6, 4.3, 4.2, 3.4, 2.5, 2.9, 1.7,
  1.7, 0.9, 0.6, 0.8, 0.3, 0.6, 1.1, 0.8, 0.9, 0.6, 0.8, 1.4, 2.5, 2.3, 1.7, 2.1, 1.9, 2.5, 1.7, 1.7,
  1.9, 2.1, 2.3, 1.9, 1.7, 2.1, 1.9, 1.7, 2.3, 1.7, 2.3, 2.9, 3.7, 2.5, 1.7, 1.1, 0.3, 1.4, 1.7, 2.1];
const pc3chr12Peak = [[7.8, 9.5], [15.1, 17.2]];
const pc3chr12XTicks = [20, 40, 60, 80, 100];
const pc3chr12YTicks = [-6, -4, -2, 0, 2, 4];
const pc3chr12YLabels = ['-0.006', '-0.004', '-0.002', '0.000', '0.002', '0.004'];
const pc3chr12LodTicks = [0, 4, 8, 12];

// ---- Principal Component 4, Chromosome 17 ----
const pc4chr17Pos = [5.9, 7.0, 7.9, 8.8, 9.7, 11.0, 12.4, 13.7, 15.1, 16.0, 16.6,
  22.2, 23.3, 24.5, 25.6, 26.7, 27.8, 28.7,
  29.9, 30.8, 31.6, 32.8, 34.1, 35.5, 37.0, 38.5, 40.2, 41.8, 43.3, 44.2, 45.1, 46.0, 47.3, 48.7, 50.0, 51.4, 52.7, 54.5,
  56.3, 58.1, 59.7, 61.2, 62.7, 64.2, 65.7, 67.2, 68.8, 70.6, 72.2, 73.5, 74.4,
  84.2, 85.4, 86.8, 87.7, 88.2, 88.6, 89.2, 90.3, 92.1, 93.5, 94.6];
const pc4chr17AJ = [0, 0.4, 0.6, 0.9, 1.1, 0.6, 0.3, 0.2, 0.1, 0, 0,
  0, -0.5, -0.8, -0.2, -0.8, -0.4, 0,
  0, 0.4, 0.6, 0.8, 1.0, 1.2, 1.4, 1.6, 1.7, 2.0, 3.3, 4.1, 4.2, 3.8, 3.5, 2.8, 2.6, 2.1, 2.1, 1.8,
  1.4, 1.5, 1.7, 1.8, 1.4, 1.4, 1.3, 0.9, 0.8, 0.3, 0.2, 0, 0,
  0, -0.3, -1.4, -2.1, -2.3, -2.4, -1.2, -1.0, -1.2, -1.5, -1.2];
const pc4chr17B6 = [0, -0.1, -0.3, -0.4, -0.3, -0.2, -0.1, -0.1, -0.2, -0.1, 0,
  0, 0.2, 0.4, 0.5, 0.6, 0.9, 0,
  0, 0.2, 0.3, 0.4, 0.3, 0.3, 0.2, 0, 0.2, 0.4, 1.4, 2.5, 3.6, 3.3, 2.6, 2.4, 2.5, 2.6, 2.7, 3.0,
  3.0, 2.6, 2.4, 2.1, 1.8, 1.6, 1.0, 0.8, -0.3, -0.8, -0.6, -0.3, 0,
  0, 0.2, 0.4, 0.1, 0, -0.1, -0.2, -0.2, -0.3, -0.5, -0.6];
const pc4chr17S129 = [0, -0.2, -0.8, -1.2, -1.4, -1.1, -0.7, -0.5, -1.2, -0.3, 0,
  0, 0.4, 0.4, 0.5, 1.1, 0.9, 0,
  0, 1.1, 2.8, 2.8, 2.6, 2.0, 1.5, 1.4, 1.2, 1.2, 1.2, 1.2, 2.1, 2.2, 2.3, 2.3, 1.1, -0.2, -1.1, -1.4,
  -1.7, -1.8, -1.9, -2.3, -2.8, -3.4, -3.6, -3.8, -2.3, -2.3, -1.1, -0.3, 0,
  0, 0.4, 0.6, 0.3, 0.2, 0.1, 0.3, 0.5, 0.3, 0.2, 0.2];
const pc4chr17NOD = [0, -0.2, -0.5, -0.7, -0.6, -0.2, 0, 0.1, -0.2, -0.1, 0,
  0, -0.1, -0.1, -0.2, -0.3, -0.2, 0,
  0, 0.3, 0.6, 0.9, 1.2, 0.8, 0.4, 0.2, 0, -0.1, -0.5, -1.1, -1.8, -1.4, -0.6, 0, 0.3, 0.5, 1.1, 1.7,
  2.1, 2.6, 3.2, 2.9, 2.7, 2.1, 2.4, 2.0, 1.7, 1.0, 0.5, 0, 0,
  0, 0.2, 0.3, 0.2, 0.1, 0.2, 0.2, 0.3, 0.3, 0.4, 0.6];
const pc4chr17NZO = [0, 0.9, 1.4, 2.0, 1.3, 0.8, 0.5, 0.8, 1.0, 1.1, 0,
  0, 0.1, 0.2, 0.2, 0.3, 0.2, 0,
  0, -0.4, -0.6, -0.8, -0.6, -0.3, -0.1, 0, -0.3, -0.6, -0.5, -0.4, -0.3, -0.3, -0.5, -0.8, -1.4, -1.8, -1.8, -2.0,
  -1.8, -1.7, -2.0, -2.7, -3.8, -2.9, -2.3, -1.8, -1.0, -0.6, -0.4, -0.2, 0,
  0, 0.1, 0.2, 0.1, 0, 0, 0.1, 0.2, 0.1, 0, 0];
const pc4chr17CAST = [0, 0.2, 0.5, 0.6, 0.7, 0.3, 0.3, 0.4, 0.4, 0.2, 0,
  0, 0.1, 0.3, 0.3, 0.4, 0.3, 0,
  0, -0.2, 0, -0.1, -0.2, -0.2, -0.3, -0.3, -0.2, -0.2, 0, 0.2, 0.5, 0.3, 0.6, 0.6, 0.7, 0.8, 0.8, 0.6,
  0.9, 1.1, 1.2, 1.5, 1.5, 1.8, 1.4, 1.5, 1.8, 1.2, 0.6, 0.3, 0,
  0, 0.3, 0.5, 0.2, 0.2, 0.1, 0, -0.2, -0.2, -0.1, -0.2];
const pc4chr17PWK = [0, -0.5, -1.1, -2.0, -2.1, -1.3, -0.9, -0.6, -1.7, -0.5, 0,
  0, -0.3, -0.5, -0.4, -1.1, -0.5, 0,
  0, -1.1, -2.6, -3.0, -3.3, -3.0, -2.6, -2.7, -2.6, -2.4, -2.3, -3.0, -3.3, -3.6, -3.8, -4.1, -3.3, -2.9, -2.9, -2.6,
  -2.6, -2.3, -2.4, -2.8, -3.2, -3.0, -2.9, -2.4, -2.3, -1.7, -1.1, -0.5, 0,
  0, -0.1, -0.2, -0.5, -1.7, -2.6, -0.8, 0.2, 1.1, 1.2, 1.0];
const pc4chr17WSB = [0, 0.3, 0.8, 1.4, 1.7, 1.0, 0.6, 0.5, 0.9, 1.2, 0,
  0, 0.6, 0.6, 0.7, 1.2, 1.0, 0,
  0, -1.1, -1.3, -1.4, -1.2, -1.1, -1.1, -1.2, -1.3, -1.4, -1.5, -1.7, -2.0, -2.1, -2.0, -1.8, -1.6, -1.3, -0.8, -0.9,
  -1.3, -1.6, -1.7, -1.5, -1.1, -0.5, -0.5, -0.3, -0.2, -0.3, -0.2, -0.1, 0,
  0, 0.4, 0.6, 0.8, 0.9, 1.5, 0.6, 0.3, 0.2, 0.1, 0.2];
const pc4chr17LodPos = [3.4, 4.8, 6.1, 7.9, 9.2, 10.6, 12.4, 14.2, 15.5, 16.9, 18.7, 20.4, 22.2, 24.0, 25.8, 27.6, 29.9, 31.2, 32.5, 33.9,
  35.2, 36.6, 38.4, 40.2, 42.0, 43.7, 44.8, 46.0, 47.3, 48.7, 50.0, 51.8, 53.6, 55.4, 57.2, 59.0, 60.8, 62.6, 64.4, 66.1,
  67.9, 69.7, 71.5, 73.3, 75.1, 76.9, 78.7, 80.5, 82.3, 84.1, 85.4, 87.2, 88.5, 89.4, 90.8, 92.1, 93.5, 94.6];
const pc4chr17Lod = [0.7, 0.4, 1.5, 3.0, 3.9, 3.0, 2.4, 2.1, 2.8, 2.4, 1.9, 1.9, 1.9, 2.2, 2.6, 2.1, 2.2, 5.6, 5.3, 6.3,
  5.2, 3.7, 2.6, 3.0, 3.3, 4.4, 8.1, 7.8, 7.4, 6.7, 4.4, 4.8, 5.3, 5.9, 5.2, 5.7, 5.6, 5.9, 5.2, 4.8,
  4.4, 3.7, 2.6, 1.6, 0.6, 0.7, 1.5, 1.1, 1.9, 0.4, 1.1, 2.6, 4.1, 2.6, 3.0, 1.9, 3.0, 2.6];
const pc4chr17Peak = [[44.8, 48.2]];
const pc4chr17XTicks = [20, 40, 60, 80];
const pc4chr17YTicks = [-4, -2, 0, 2, 4];
const pc4chr17YLabels = ['-0.004', '-0.002', '0.000', '0.002', '0.004'];
const pc4chr17LodTicks = [0, 2, 4, 6, 8];

const panels = [
  { title: 'Principal Component 1, Chromosome 1', chr: 1, col: 1, row: 0, pos: pc1chr1Pos,
    series: [pc1chr1AJ, pc1chr1B6, pc1chr1S129, pc1chr1NOD, pc1chr1NZO, pc1chr1CAST, pc1chr1PWK, pc1chr1WSB],
    lodPos: pc1chr1LodPos, lod: pc1chr1Lod, bands: pc1chr1Peak, xRange: [0.8, 200], xTicks: pc1chr1XTicks,
    yRange: [-10.76, 5.16], yTicks: pc1chr1YTicks, yLabels: pc1chr1YLabels, lodMax: 7.6, lodTicks: pc1chr1LodTicks },
  { title: 'Principal Component 1, Chromosome 6', chr: 6, col: 0, row: 1, pos: pc1chr6Pos,
    series: [pc1chr6AJ, pc1chr6B6, pc1chr6S129, pc1chr6NOD, pc1chr6NZO, pc1chr6CAST, pc1chr6PWK, pc1chr6WSB],
    lodPos: pc1chr6LodPos, lod: pc1chr6Lod, bands: pc1chr6Peak, xRange: [3.3, 149.6], xTicks: pc1chr6XTicks,
    yRange: [-10.13, 9.33], yTicks: pc1chr6YTicks, yLabels: pc1chr6YLabels, lodMax: 10.4, lodTicks: pc1chr6LodTicks },
  { title: 'Principal Component 1, Chromosome 7', chr: 7, col: 1, row: 1, pos: pc1chr7Pos,
    series: [pc1chr7AJ, pc1chr7B6, pc1chr7S129, pc1chr7NOD, pc1chr7NZO, pc1chr7CAST, pc1chr7PWK, pc1chr7WSB],
    lodPos: pc1chr7LodPos, lod: pc1chr7Lod, bands: pc1chr7Peak, xRange: [2.1, 147.6], xTicks: pc1chr7XTicks,
    yRange: [-6.8, 11.25], yTicks: pc1chr7YTicks, yLabels: pc1chr7YLabels, lodMax: 12.2, lodTicks: pc1chr7LodTicks },
  { title: 'Principal Component 2, Chromosome 6', chr: 6, col: 0, row: 2, pos: pc2chr6Pos,
    series: [pc2chr6AJ, pc2chr6B6, pc2chr6S129, pc2chr6NOD, pc2chr6NZO, pc2chr6CAST, pc2chr6PWK, pc2chr6WSB],
    lodPos: pc2chr6LodPos, lod: pc2chr6Lod, bands: pc2chr6Peak, xRange: [3.5, 149.3], xTicks: pc2chr6XTicks,
    yRange: [-3.59, 8.04], yTicks: pc2chr6YTicks, yLabels: pc2chr6YLabels, lodMax: 9.0, lodTicks: pc2chr6LodTicks },
  { title: 'Principal Component 2, Chromosome 14', chr: 14, col: 1, row: 2, pos: pc2chr14Pos,
    series: [pc2chr14AJ, pc2chr14B6, pc2chr14S129, pc2chr14NOD, pc2chr14NZO, pc2chr14CAST, pc2chr14PWK, pc2chr14WSB],
    lodPos: pc2chr14LodPos, lod: pc2chr14Lod, bands: pc2chr14Peak, xRange: [8.0, 124.3], xTicks: pc2chr14XTicks,
    yRange: [-7.0, 4.89], yTicks: pc2chr14YTicks, yLabels: pc2chr14YLabels, lodMax: 7.8, lodTicks: pc2chr14LodTicks },
  { title: 'Principal Component 3, Chromosome 12', chr: 12, col: 0, row: 3, pos: pc3chr12Pos,
    series: [pc3chr12AJ, pc3chr12B6, pc3chr12S129, pc3chr12NOD, pc3chr12NZO, pc3chr12CAST, pc3chr12PWK, pc3chr12WSB],
    lodPos: pc3chr12LodPos, lod: pc3chr12Lod, bands: pc3chr12Peak, xRange: [2.87, 119.6], xTicks: pc3chr12XTicks,
    yRange: [-8.1, 5.44], yTicks: pc3chr12YTicks, yLabels: pc3chr12YLabels, lodMax: 13.4, lodTicks: pc3chr12LodTicks },
  { title: 'Principal Component 4, Chromosome 17', chr: 17, col: 1, row: 3, pos: pc4chr17Pos,
    series: [pc4chr17AJ, pc4chr17B6, pc4chr17S129, pc4chr17NOD, pc4chr17NZO, pc4chr17CAST, pc4chr17PWK, pc4chr17WSB],
    lodPos: pc4chr17LodPos, lod: pc4chr17Lod, bands: pc4chr17Peak, xRange: [3.2, 94.8], xTicks: pc4chr17XTicks,
    yRange: [-4.89, 4.8], yTicks: pc4chr17YTicks, yLabels: pc4chr17YLabels, lodMax: 8.4, lodTicks: pc4chr17LodTicks }
];

// layout of the grid (pixels)
const COLS = [44, 440];
const ROWS = [17, 227, 437, 647];
const TITLE_Y = [6, 213, 424, 633.5];
const BOX_W = 339, FX_H = 107, LOD_GAP = 110, LOD_H = 38;
const AXIS_W = 50, PAD = 8, XAXIS_H = 28;

Chart.defaults.font.family = '"Liberation Sans", Arial, Helvetica, sans-serif';
Chart.defaults.font.size = 8.7;
Chart.defaults.color = '#222';

// plot background, peak band and frame
const panelFrame = {
  id: 'panelFrame',
  beforeDatasetsDraw(chart, args, opts) {
    const { ctx, chartArea: a, scales: { x } } = chart;
    ctx.save();
    ctx.fillStyle = '#f6f8f6';
    ctx.fillRect(a.left, a.top, a.width, a.height);
    ctx.fillStyle = '#c7cfcb';
    (opts.bands || []).forEach(b => {
      const x0 = x.getPixelForValue(b[0]);
      const x1 = x.getPixelForValue(b[1]);
      ctx.fillRect(x0, a.top, x1 - x0, a.height);
    });
    ctx.restore();
  },
  afterDatasetsDraw(chart) {
    const { ctx, chartArea: a } = chart;
    ctx.save();
    ctx.strokeStyle = '#5a5a5a';
    ctx.lineWidth = 1;
    ctx.strokeRect(Math.round(a.left) - 0.5, Math.round(a.top) - 0.5, Math.round(a.width) + 1, Math.round(a.height) + 1);
    ctx.restore();
  }
};

function addCanvas(left, top, w, h) {
  const cv = document.createElement('canvas');
  cv.width = w; cv.height = h;
  cv.style.left = left + 'px';
  cv.style.top = top + 'px';
  cv.style.width = w + 'px';
  cv.style.height = h + 'px';
  document.body.appendChild(cv);
  return cv;
}

function yAxis(min, max, ticks, labels, title) {
  return {
    min: min, max: max,
    afterBuildTicks: s => { s.ticks = ticks.map(v => ({ value: v })); },
    afterFit: s => { s.width = AXIS_W; },
    grid: { display: false, drawTicks: false },
    border: { display: false },
    ticks: { padding: 4, autoSkip: false, callback: (v, i) => labels[i] },
    title: { display: true, text: title, padding: { top: 5, bottom: 0 } }
  };
}

panels.forEach(p => {
  const L = COLS[p.col], T = ROWS[p.row];

  const t = document.createElement('div');
  t.className = 'ptitle';
  t.style.left = L + 'px';
  t.style.top = (TITLE_Y[p.row] - 6) + 'px';
  t.textContent = p.title;
  document.body.appendChild(t);

  // QTL effects panel
  const cvA = addCanvas(L - AXIS_W, T - PAD, AXIS_W + BOX_W + 4, FX_H + 2 * PAD);
  new Chart(cvA, {
    type: 'line',
    data: {
      datasets: p.series.map((vals, i) => ({
        label: founders[i],
        data: p.pos.map((x, j) => ({ x: x, y: vals[j] })),
        borderColor: founderColors[i],
        borderWidth: 1,
        pointRadius: 0,
        tension: 0,
        order: 7 - i
      }))
    },
    options: {
      responsive: false, animation: false, events: [],
      layout: { padding: { top: PAD, bottom: PAD, left: 0, right: 4 } },
      plugins: { legend: { display: false }, tooltip: { enabled: false }, panelFrame: { bands: p.bands } },
      scales: {
        x: { type: 'linear', min: p.xRange[0], max: p.xRange[1], display: false },
        y: yAxis(p.yRange[0], p.yRange[1], p.yTicks, p.yLabels, 'QTL effects')
      }
    },
    plugins: [panelFrame]
  });

  // LOD panel with the chromosome axis
  const cvB = addCanvas(L - AXIS_W, T + LOD_GAP - PAD, AXIS_W + BOX_W + 4, PAD + LOD_H + XAXIS_H);
  new Chart(cvB, {
    type: 'line',
    data: {
      datasets: [{
        label: 'LOD',
        data: p.lodPos.map((x, j) => ({ x: x, y: p.lod[j] })),
        borderColor: '#6c6cf0',
        borderWidth: 1,
        pointRadius: 0,
        tension: 0
      }]
    },
    options: {
      responsive: false, animation: false, events: [],
      layout: { padding: { top: PAD, bottom: 0, left: 0, right: 4 } },
      plugins: { legend: { display: false }, tooltip: { enabled: false }, panelFrame: { bands: p.bands } },
      scales: {
        x: {
          type: 'linear', min: p.xRange[0], max: p.xRange[1],
          afterBuildTicks: s => { s.ticks = p.xTicks.map(v => ({ value: v })); },
          afterFit: s => { s.height = XAXIS_H; },
          grid: { display: false, drawTicks: false },
          border: { display: false },
          ticks: { padding: 4, autoSkip: false, maxRotation: 0 },
          title: { display: true, text: 'Chromosome ' + p.chr + ' position (Mb)', padding: { top: 0, bottom: 3 } }
        },
        y: yAxis(0, p.lodMax, p.lodTicks, p.lodTicks.map(String), 'LOD')
      }
    },
    plugins: [panelFrame]
  });
});

// legend: two rows, four columns
const legend = document.getElementById('legend');
founders.forEach((name, i) => {
  const col = Math.floor(i / 2), row = i % 2;
  const key = document.createElement('div');
  key.className = 'key';
  key.style.left = (8.7 + col * 68.8) + 'px';
  key.style.top = (10.3 + row * 13.7) + 'px';
  key.style.background = founderColors[i];
  legend.appendChild(key);
  const lab = document.createElement('div');
  lab.className = 'lab';
  lab.style.left = (37 + col * 68.9) + 'px';
  lab.style.top = (5.3 + row * 13.7) + 'px';
  lab.textContent = name;
  legend.appendChild(lab);
});
</script>
</body>
</html>
